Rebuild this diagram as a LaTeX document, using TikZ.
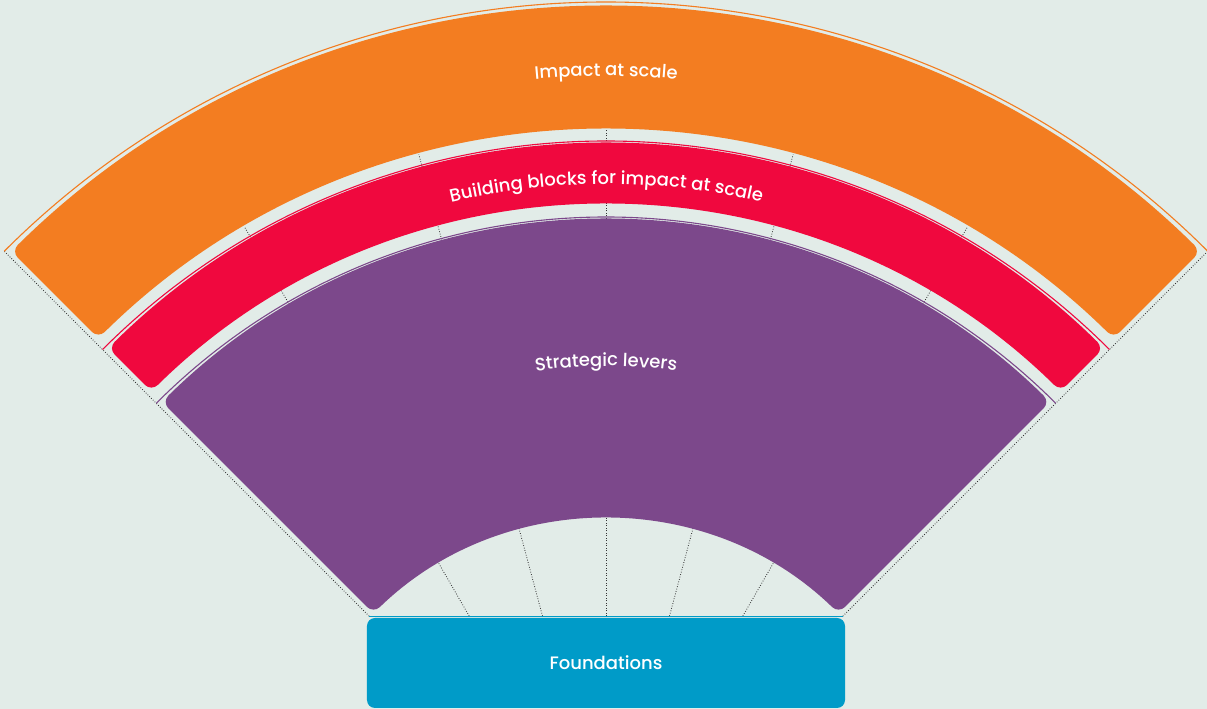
\documentclass[tikz,border=0pt]{standalone}
\usepackage{fontspec}
\setmainfont{Poppins}[BoldFont={* Medium}]
\usetikzlibrary{decorations.text}

\definecolor{bgcol}{HTML}{E2ECE8}
\definecolor{impactcol}{HTML}{F37D21}
\definecolor{blockcol}{HTML}{F0083E}
\definecolor{levercol}{HTML}{7C488B}
\definecolor{foundcol}{HTML}{009BC8}

\newcommand\lblfont{\bfseries\fontsize{18}{21}\selectfont}

\begin{document}
\begin{tikzpicture}[
    x=1pt, y=1pt,
    guide/.style={black!80, line width=0.8pt, dash pattern=on 0.8pt off 1.7pt},
    rim/.style={line width=1.1pt},
    band/.style={rounded corners=9pt},
    bandtext/.style={decorate, decoration={text along path, text align=center, text color=white}},
    foundbox/.style={
        fill=foundcol,
        rounded corners=8pt,
        minimum width=478pt,
        minimum height=90pt,
        text=white,
        font=\lblfont
    }
]

% Background
\fill[bgcol] (-606,144) rectangle (601,853);
\useasboundingbox (-606,144) rectangle (601,853);

% =====================================================
% GUIDE LINES
% =====================================================

\foreach \a in {60,75,...,120}
    \draw[guide] (\a:{237/sin(\a)}) -- (\a:723);
\foreach \a in {45,135}
    \draw[guide] (\a:335) -- (\a:851);

% Rims above each band
\draw[rim, impactcol] (135:851) arc[start angle=135, end angle=45, radius=851];
\draw[rim, blockcol] (135:712) arc[start angle=135, end angle=45, radius=712];
\draw[rim, levercol] (135:636) arc[start angle=135, end angle=45, radius=636];
\draw[rim, foundcol] (135:335) -- (45:335);

% =====================================================
% BANDS
% =====================================================

\foreach \rin/\rout/\col in {723/846/impactcol, 648/709/blockcol, 334/633/levercol}
    \fill[band, \col]
        ({135-asin(5/\rout)}:\rout)
        arc[start angle={135-asin(5/\rout)}, end angle={45+asin(5/\rout)}, radius=\rout]
        -- ({45+asin(5/\rin)}:\rin)
        arc[start angle={45+asin(5/\rin)}, end angle={135-asin(5/\rin)}, radius=\rin]
        -- cycle;

% Labels
\path[bandtext, decoration={text={|\lblfont|Impact at scale}}]
    (135:777) arc[start angle=135, end angle=45, radius=777];
\path[bandtext, decoration={text={|\lblfont|Building blocks for impact at scale}}]
    (135:669) arc[start angle=135, end angle=45, radius=669];
\path[bandtext, decoration={text={|\lblfont|Strategic levers}}]
    (135:487) arc[start angle=135, end angle=45, radius=487];

% Foundations
\node[foundbox] (foundations) at (0,190) {Foundations};

\end{tikzpicture}
\end{document}
